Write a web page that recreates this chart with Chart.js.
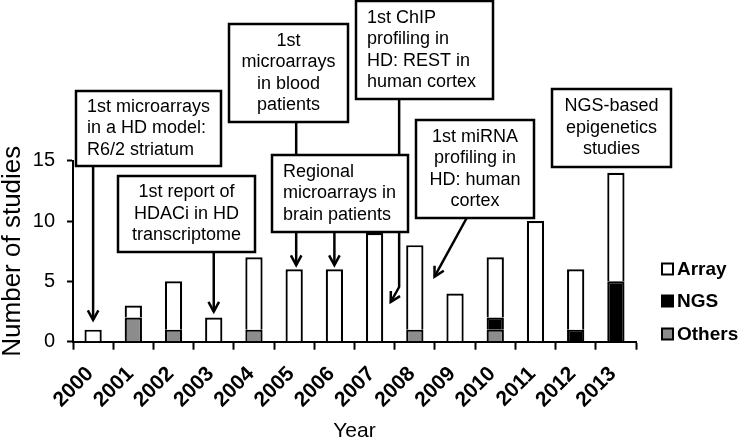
<!DOCTYPE html>
<html>
<head>
<meta charset="utf-8">
<title>Number of studies per year</title>
<script src="https://cdn.jsdelivr.net/npm/chart.js@4.4.0/dist/chart.umd.min.js"></script>
<style>
  html, body { margin: 0; padding: 0; background: #fff; }
  #wrap { width: 742px; height: 444px; }
</style>
</head>
<body>
<div id="wrap"><canvas id="studiesChart" width="742" height="444"></canvas></div>
<script>
// Values
const years = ['2000', '2001', '2002', '2003', '2004', '2005', '2006',
               '2007', '2008', '2009', '2010', '2011', '2012', '2013'];
const arrayCounts = [1, 1, 4, 2, 6, 6, 6, 9, 7, 4, 5, 10, 5, 9];
const ngsCounts   = [0, 0, 0, 0, 0, 0, 0, 0, 0, 0, 1, 0, 1, 5];
const otherCounts = [0, 2, 1, 0, 1, 0, 0, 0, 1, 0, 1, 0, 0, 0];
const yTickValues = [0, 5, 10, 15];

const FONT = '"Liberation Sans", Arial, Helvetica, sans-serif';

// Callout boxes (layout in pixels)
const callouts = [
    { rect: [76, 91, 145, 75], align: 'left', lines: ['1st microarrays', 'in a HD model:', 'R6/2 striatum'] },
    { rect: [118, 176, 137, 76], align: 'center', lines: ['1st report of', 'HDACi in HD', 'transcriptome'] },
    { rect: [229, 24, 119, 98], align: 'center', lines: ['1st', 'microarrays', 'in blood', 'patients'] },
    { rect: [272, 155, 136, 77], align: 'left', lines: ['Regional', 'microarrays in', 'brain patients'] },
    { rect: [356, 1, 137, 98], align: 'left', lines: ['1st ChIP', 'profiling in', 'HD: REST in', 'human cortex'] },
    { rect: [416, 120, 118, 98], align: 'center', lines: ['1st miRNA', 'profiling in', 'HD: human', 'cortex'] },
    { rect: [552, 89, 119, 78], align: 'center', lines: ['NGS-based', 'epigenetics', 'studies'] }
];

// Pointer paths: i = category position, v = data value, py = pixel row of a box edge
const pointers = [
    { head: true,  pts: [{ i: 0, py: 166 }, { i: 0, v: 1.8 }] },
    { head: true,  pts: [{ i: 3, py: 252 }, { i: 3, v: 2.5 }] },
    { head: false, pts: [{ i: 5.05, py: 122 }, { i: 5.05, py: 155 }] },
    { head: true,  pts: [{ i: 5.05, py: 232 }, { i: 5.05, v: 6.35 }] },
    { head: true,  pts: [{ i: 6, py: 232 }, { i: 6, v: 6.35 }] },
    { head: true,  pts: [{ i: 7.61, py: 99 }, { i: 7.61, v: 4.53 }, { i: 7.4, v: 3.29 }] },
    { head: true,  pts: [{ i: 9.29, py: 218 }, { i: 8.49, v: 5.39 }] }
];

const legendItems = [
    { text: 'Array', fill: '#ffffff', y: 269 },
    { text: 'NGS', fill: '#000000', y: 301 },
    { text: 'Others', fill: '#8c8c8c', y: 334 }
];

// zeros are simply absent segments
const toSegments = (arr) => arr.map(v => (v === 0 ? null : v));

// Draw callouts, pointers and legend on top of the bars
const calloutPlugin = {
    id: 'callouts',
    afterDraw(chart) {
        const { ctx } = chart;
        const xs = chart.scales.x;
        const ys = chart.scales.y;
        const toPx = (p) => [xs.getPixelForValue(p.i), p.v !== undefined ? ys.getPixelForValue(p.v) : p.py];

        ctx.save();
        ctx.strokeStyle = '#000';
        ctx.lineWidth = 2.5;
        ctx.lineCap = 'butt';
        ctx.lineJoin = 'miter';

        pointers.forEach(ptr => {
            const pts = ptr.pts.map(toPx);
            ctx.beginPath();
            ctx.moveTo(pts[0][0], pts[0][1]);
            for (let k = 1; k < pts.length; k++) ctx.lineTo(pts[k][0], pts[k][1]);
            ctx.stroke();
            if (ptr.head) {
                const [tx, ty] = pts[pts.length - 1];
                const [sx, sy] = pts[pts.length - 2];
                const ang = Math.atan2(ty - sy, tx - sx);
                const len = 11;
                ctx.beginPath();
                ctx.moveTo(tx - len * Math.cos(ang - 0.5), ty - len * Math.sin(ang - 0.5));
                ctx.lineTo(tx, ty);
                ctx.lineTo(tx - len * Math.cos(ang + 0.5), ty - len * Math.sin(ang + 0.5));
                ctx.stroke();
            }
        });

        ctx.font = '18px ' + FONT;
        ctx.textBaseline = 'middle';
        const lh = 21.5;
        callouts.forEach(c => {
            const [x, y, w, h] = c.rect;
            ctx.fillStyle = '#fff';
            ctx.fillRect(x, y, w, h);
            ctx.strokeRect(x, y, w, h);
            ctx.fillStyle = '#000';
            ctx.textAlign = c.align;
            const tx = c.align === 'left' ? x + 11 : x + w / 2;
            const first = y + h / 2 - (c.lines.length - 1) * lh / 2;
            c.lines.forEach((line, k) => ctx.fillText(line, tx, first + k * lh));
        });

        // legend
        ctx.font = 'bold 19px ' + FONT;
        ctx.textAlign = 'left';
        ctx.lineWidth = 2;
        legendItems.forEach(item => {
            ctx.fillStyle = item.fill;
            ctx.fillRect(662, item.y - 5.5, 11, 11);
            ctx.strokeRect(662, item.y - 5.5, 11, 11);
            ctx.fillStyle = '#000';
            ctx.fillText(item.text, 677, item.y + 1);
        });
        ctx.restore();
    }
};

const barStyle = {
    borderColor: '#000',
    borderWidth: 2.2,
    categoryPercentage: 1,
    barPercentage: 0.43
};

new Chart(document.getElementById('studiesChart'), {
    type: 'bar',
    data: {
        labels: years,
        datasets: [
            { label: 'Others', data: toSegments(otherCounts), backgroundColor: '#8c8c8c', ...barStyle },
            { label: 'NGS', data: toSegments(ngsCounts), backgroundColor: '#000000', ...barStyle },
            { label: 'Array', data: toSegments(arrayCounts), backgroundColor: '#ffffff', ...barStyle }
        ]
    },
    options: {
        responsive: false,
        animation: false,
        devicePixelRatio: 1,
        layout: { padding: { left: 0, right: 106, top: 160.7, bottom: 0 } },
        plugins: {
            legend: { display: false },
            tooltip: { enabled: false }
        },
        scales: {
            x: {
                stacked: true,
                afterFit: (s) => { s.height = 102.3; },
                grid: { drawOnChartArea: false, offset: true, tickLength: 8, tickWidth: 2, tickColor: '#000' },
                border: { color: '#000', width: 2 },
                ticks: {
                    color: '#000',
                    font: { family: FONT, size: 21, weight: 'bold' },
                    autoSkip: false,
                    maxRotation: 45,
                    minRotation: 45,
                    padding: 12,
                    labelOffset: -3
                },
                title: {
                    display: true,
                    text: 'Year',
                    color: '#000',
                    font: { family: FONT, size: 21 },
                    padding: 0
                }
            },
            y: {
                stacked: true,
                min: 0,
                max: 15,
                afterFit: (s) => { s.width = 73; },
                afterBuildTicks: (s) => { s.ticks = yTickValues.map(v => ({ value: v })); },
                grid: { drawOnChartArea: false, tickLength: 6, tickWidth: 2, tickColor: '#000' },
                border: { color: '#000', width: 2 },
                ticks: {
                    color: '#000',
                    font: { family: FONT, size: 20 },
                    padding: 12
                },
                title: {
                    display: true,
                    text: 'Number of studies',
                    color: '#000',
                    font: { family: FONT, size: 26, lineHeight: 1 },
                    padding: 0
                }
            }
        }
    },
    plugins: [calloutPlugin]
});
</script>
</body>
</html>
